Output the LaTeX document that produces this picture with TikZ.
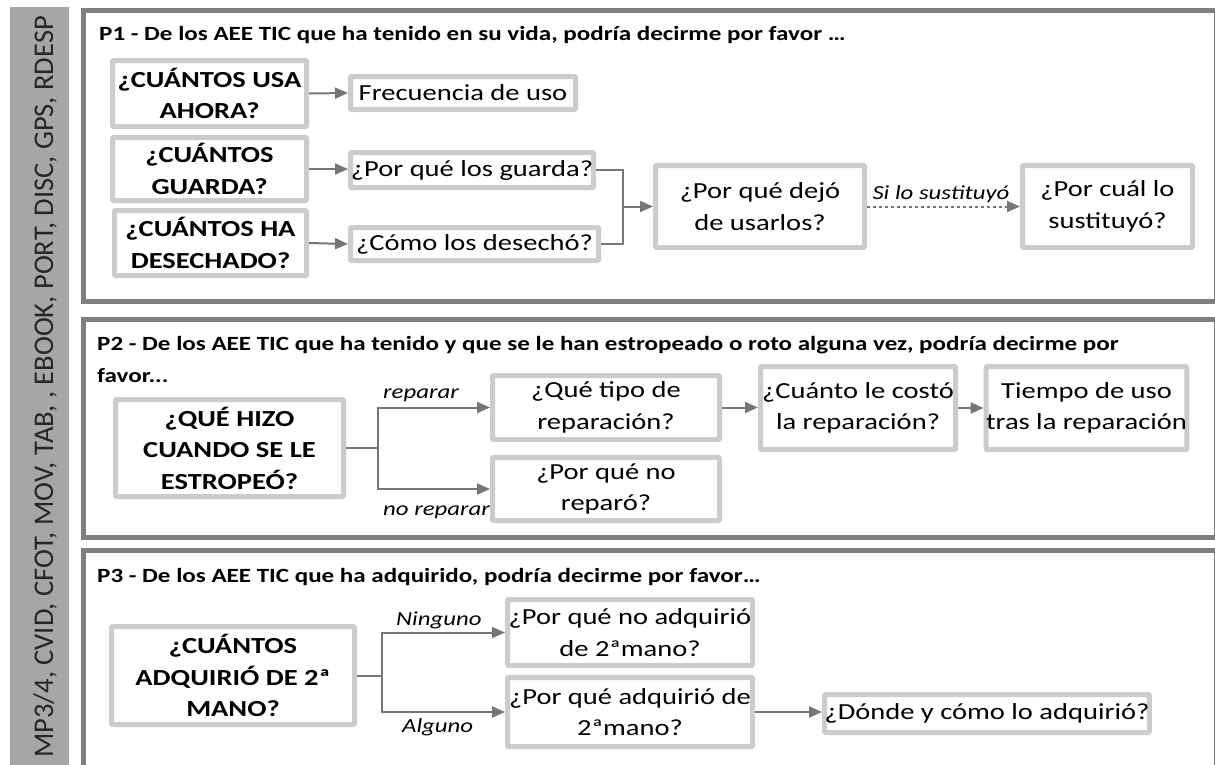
\documentclass[tikz,border=0pt]{standalone}
\usepackage{fontspec}
\setmainfont{Carlito}[FakeStretch=1.24]
\newfontfamily\sidefont{Carlito}
\usetikzlibrary{arrows.meta}
\definecolor{panelgray}{RGB}{127,127,127}
\definecolor{boxgray}{RGB}{204,204,204}
\definecolor{sidegray}{RGB}{166,166,166}
\definecolor{arrgray}{RGB}{118,118,118}
\definecolor{sidetext}{RGB}{38,38,38}
\tikzset{
  panel/.style={draw=panelgray, line width=5pt},
  qbox/.style={draw=boxgray, line width=5pt, rounded corners=1pt, fill=white, inner sep=0pt, align=center,
    font=\fontsize{23}{31.5}\selectfont\bfseries},
  abox/.style={draw=boxgray, line width=5pt, rounded corners=1pt, fill=white, inner sep=0pt, align=center,
    font=\fontsize{23}{31.5}\selectfont},
  ptitle/.style={anchor=base west, inner sep=0pt, font=\fontsize{20.2}{32}\selectfont\bfseries, align=left},
  lab/.style={anchor=base west, inner sep=0pt, font=\fontsize{20}{24}\selectfont\itshape},
  arr/.style={draw=arrgray, line width=2pt, -{Triangle[length=13pt,width=11pt]}},
  ln/.style={draw=arrgray, line width=2pt},
}
\begin{document}
\begin{tikzpicture}[x=1pt,y=-1pt]
\useasboundingbox (0,0) rectangle (1215,764);
% sidebar
\fill[sidegray] (10,7) rectangle (69,780);
\node[rotate=90, anchor=base, inner sep=0pt, text=sidetext, font=\fontsize{28.5}{30}\sidefont] (side) at (53,387)
  {MP3/4, CVID, CFOT, MOV, TAB, , EBOOK, PORT, DISC, GPS, RDESP};
% panels
\draw[panel] (83,10) rectangle (1216,301);
\draw[panel] (83,319) rectangle (1216,537);
\draw[panel] (83,550) rectangle (1216,800);
% P1
\node[ptitle] (t1) at (99,40) {P1 - De los AEE TIC que ha tenido en su vida, podría decirme por favor …};
\node[qbox, minimum width=194pt, minimum height=66pt] (a1) at (209.5,93.5) {¿CUÁNTOS USA\\AHORA?};
\node[qbox, minimum width=194pt, minimum height=63pt] (a2) at (209.5,169) {¿CUÁNTOS\\GUARDA?};
\node[qbox, minimum width=192pt, minimum height=65pt] (a3) at (210.5,243) {¿CUÁNTOS HA\\DESECHADO?};
\node[abox, minimum width=225pt, minimum height=33pt] (b1) at (463,93) {Frecuencia de uso};
\node[abox, minimum width=243pt, minimum height=35pt] (b2) at (472,170) {¿Por qué los guarda?};
\node[abox, minimum width=248pt, minimum height=33pt] (b3) at (474.5,244) {¿Cómo los desechó?};
\node[abox, minimum width=209pt, minimum height=82pt] (c) at (760,206.5) {¿Por qué dejó\\de usarlos?};
\node[abox, minimum width=170pt, minimum height=82pt] (d) at (1107.5,206.5) {¿Por cuál lo\\sustituyó?};
\coordinate (j1) at (623,206.5);
\draw[arr] (a1.east) -- (b1.west);
\draw[arr] (a2.east) -- (a2.east -| b2.west);
\draw[arr] (a3.east) -- (b3.west);
\draw[ln] (b2.east) -| (j1);
\draw[ln] (b3.east) -| (j1);
\draw[arr] (j1) -- (c.west);
\draw[arr, dashed] (c.east) -- (d.west);
\node[lab, anchor=base] (l1) at (941,199) {Si lo sustituyó};
% P2
\node[ptitle] (t2) at (97,382) {P2 - De los AEE TIC que ha tenido y que se le han estropeado o roto alguna vez, podría decirme por\\favor...};
\node[qbox, minimum width=228pt, minimum height=97pt] (e) at (229.5,448) {¿QUÉ HIZO\\CUANDO SE LE\\ESTROPEÓ?};
\node[abox, minimum width=227pt, minimum height=64pt] (f) at (606,407.5) {¿Qué tipo de\\reparación?};
\node[abox, minimum width=227pt, minimum height=63pt] (g) at (606,489) {¿Por qué no\\reparó?};
\node[abox, minimum width=195pt, minimum height=83pt] (h) at (858,408) {¿Cuánto le costó\\la reparación?};
\node[abox, minimum width=196pt, minimum height=83pt] (i) at (1086.5,408) {Tiempo de uso\\tras la reparación};
\coordinate (j2) at (378,448);
\draw[ln] (e.east) -- (j2);
\draw[arr] (j2) |- (f.west);
\draw[arr] (j2) |- (g.west);
\draw[arr] (f.east) -- (f.east -| h.west);
\draw[arr] (h.east) -- (i.west);
\node[lab] (l2) at (383,398) {reparar};
\node[lab] (l3) at (383,515) {no reparar};
% P3
\node[ptitle] (t3) at (97,582) {P3 - De los AEE TIC que ha adquirido, podría decirme por favor…};
\node[qbox, minimum width=243pt, minimum height=98pt] (jq) at (233,675.5) {¿CUÁNTOS\\ADQUIRIÓ DE 2ª\\MANO?};
\node[abox, minimum width=245pt, minimum height=66pt] (k) at (630,632.5) {¿Por qué no adquirió\\de 2ªmano?};
\node[abox, minimum width=245pt, minimum height=69pt] (l) at (630,712) {¿Por qué adquirió de\\2ªmano?};
\node[abox, minimum width=315pt, minimum height=38pt] (m) at (987,713.5) {¿Dónde y cómo lo adquirió?};
\coordinate (j3) at (382,675.5);
\draw[ln] (jq.east) -- (j3);
\draw[arr] (j3) |- (k.west);
\draw[arr] (j3) |- (l.west);
\draw[arr] (l.east) -- (l.east -| m.west);
\node[lab] (l4) at (396,625) {Ninguno};
\node[lab] (l5) at (402,732) {Alguno};
\end{tikzpicture}
\end{document}
